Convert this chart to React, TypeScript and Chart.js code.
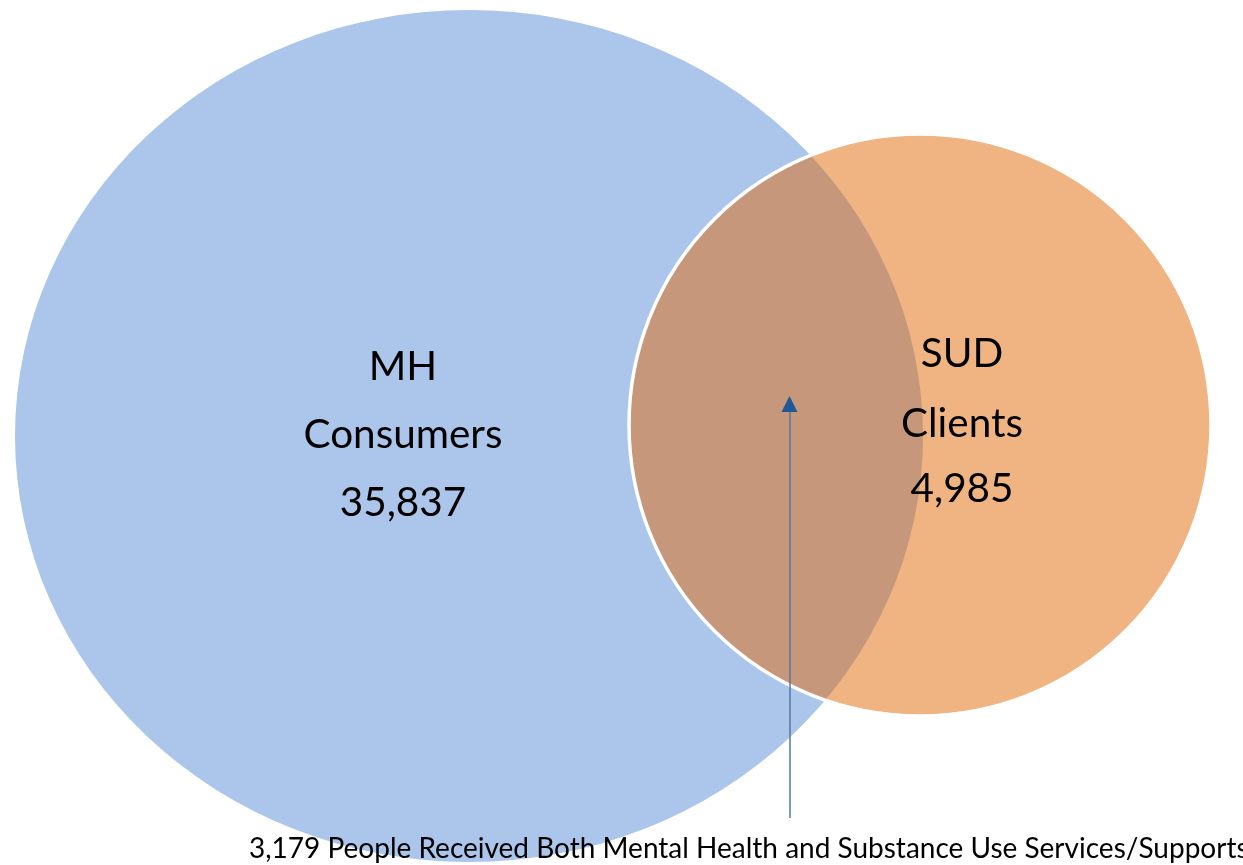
import React, { useEffect, useRef } from "react";
import { Chart, registerables } from "chart.js";

Chart.register(...registerables);

// ---- data ----
const setLabelLines: string[][] = [["MH", "Consumers"], ["SUD", "Clients"]];
const setCounts: number[] = [35837, 4985];
const overlapCount = 3179;
const overlapCaption = "People Received Both Mental Health and Substance Use Services/Supports";

// ---- styling / layout (diagram units = canvas px through the scales) ----
const setColors = ["#abc6ea", "#f0b483"];
const overlapColor = "#c6977b";
const setCentersX = [469, 920];
const setCentersY = [436, 425];
const setRadiiX = [454, 291];
const setRadiiY = [426, 291];
const labelCenterX = [403, 962];
const labelBaselines = [[380, 448, 516], [367, 437, 502]];
const labelWidthRef = 199; // width of "Consumers"
const captionX = 249;
const captionBaseline = 858;
const captionWidth = 1000;
const arrowX = 790;
const arrowBottom = 818;
const arrowTip = 396;
const FONT = "Lato, 'Open Sans', sans-serif";

const fmt = (n: number) => n.toLocaleString("en-US");

const vennPlugin = {
  id: "vennDraw",
  beforeDatasetsDraw(chart: any) {
    const ctx: CanvasRenderingContext2D = chart.ctx;
    const xs = chart.scales.x;
    const ys = chart.scales.y;
    const shapes = setCounts.map((_, i) => {
      const el = chart.getDatasetMeta(i).data[0];
      const cx = el.x;
      const cy = el.y;
      const rx = Math.abs(xs.getPixelForValue(setCentersX[i] + setRadiiX[i]) - cx);
      const ry = Math.abs(ys.getPixelForValue(setCentersY[i] + setRadiiY[i]) - cy);
      return { cx, cy, rx, ry };
    });
    const path = (s: any) => {
      ctx.beginPath();
      ctx.ellipse(s.cx, s.cy, s.rx, s.ry, 0, 0, Math.PI * 2);
      ctx.closePath();
    };
    ctx.save();
    path(shapes[0]);
    ctx.fillStyle = setColors[0];
    ctx.fill();
    path(shapes[1]);
    ctx.fillStyle = setColors[1];
    ctx.fill();
    ctx.save();
    path(shapes[0]);
    ctx.clip();
    path(shapes[1]);
    ctx.fillStyle = overlapColor;
    ctx.fill();
    ctx.restore();
    path(shapes[1]);
    ctx.strokeStyle = "#ffffff";
    ctx.lineWidth = 3.5;
    ctx.stroke();
    ctx.restore();
  },
  afterDatasetsDraw(chart: any) {
    const ctx: CanvasRenderingContext2D = chart.ctx;
    const xs = chart.scales.x;
    const ys = chart.scales.y;
    ctx.save();
    ctx.font = `100px ${FONT}`;
    const w100 = ctx.measureText("Consumers").width;
    const labelSize = (100 * labelWidthRef) / w100;
    ctx.font = `${labelSize}px ${FONT}`;
    ctx.fillStyle = "#000000";
    ctx.textAlign = "center";
    ctx.textBaseline = "alphabetic";
    setCounts.forEach((c, i) => {
      const lines = [...setLabelLines[i], fmt(c)];
      lines.forEach((t, j) => {
        ctx.fillText(t, xs.getPixelForValue(labelCenterX[i]), ys.getPixelForValue(labelBaselines[i][j]));
      });
    });

    // arrow
    const ax = xs.getPixelForValue(arrowX);
    const ab = ys.getPixelForValue(arrowBottom);
    const at = ys.getPixelForValue(arrowTip);
    ctx.strokeStyle = "#56789f";
    ctx.lineWidth = 1.5;
    ctx.beginPath();
    ctx.moveTo(ax, ab);
    ctx.lineTo(ax, at + 14);
    ctx.stroke();
    ctx.fillStyle = "#1f5a96";
    ctx.beginPath();
    ctx.moveTo(ax - 0.5, at);
    ctx.lineTo(ax - 8.5, at + 16);
    ctx.lineTo(ax + 7.5, at + 16);
    ctx.closePath();
    ctx.fill();

    // caption
    const caption = `${fmt(overlapCount)} ${overlapCaption}`;
    ctx.font = `100px ${FONT}`;
    const cw = ctx.measureText(caption).width;
    const capSize = (100 * captionWidth) / cw;
    ctx.font = `${capSize}px ${FONT}`;
    ctx.textAlign = "left";
    ctx.fillStyle = "#000000";
    ctx.fillText(caption, xs.getPixelForValue(captionX), ys.getPixelForValue(captionBaseline));
    ctx.restore();
  },
};

export default function App() {
  const ref = useRef<HTMLCanvasElement | null>(null);
  useEffect(() => {
    document.body.style.margin = "0";
    const canvas = ref.current;
    if (!canvas) return;
    const chart = new Chart(canvas, {
      type: "scatter",
      data: {
        datasets: setCounts.map((c, i) => ({
          label: setLabelLines[i].join(" "),
          data: [{ x: setCentersX[i], y: setCentersY[i] }],
          pointRadius: 0,
          pointHoverRadius: 0,
          backgroundColor: setColors[i],
        })),
      },
      options: {
        responsive: false,
        animation: false,
        devicePixelRatio: 1,
        layout: { padding: 0 },
        plugins: {
          legend: { display: false },
          tooltip: { enabled: false },
          title: { display: false },
        },
        scales: {
          x: { type: "linear", min: 0, max: 1243, display: false },
          y: { type: "linear", min: 0, max: 865, reverse: true, display: false },
        },
      },
      plugins: [vennPlugin],
    });
    return () => chart.destroy();
  }, []);
  return (
    <div style={{ position: "absolute", left: 0, top: 0, width: 1243, height: 865, background: "#ffffff" }}>
      <canvas ref={ref} width={1243} height={865} />
    </div>
  );
}
